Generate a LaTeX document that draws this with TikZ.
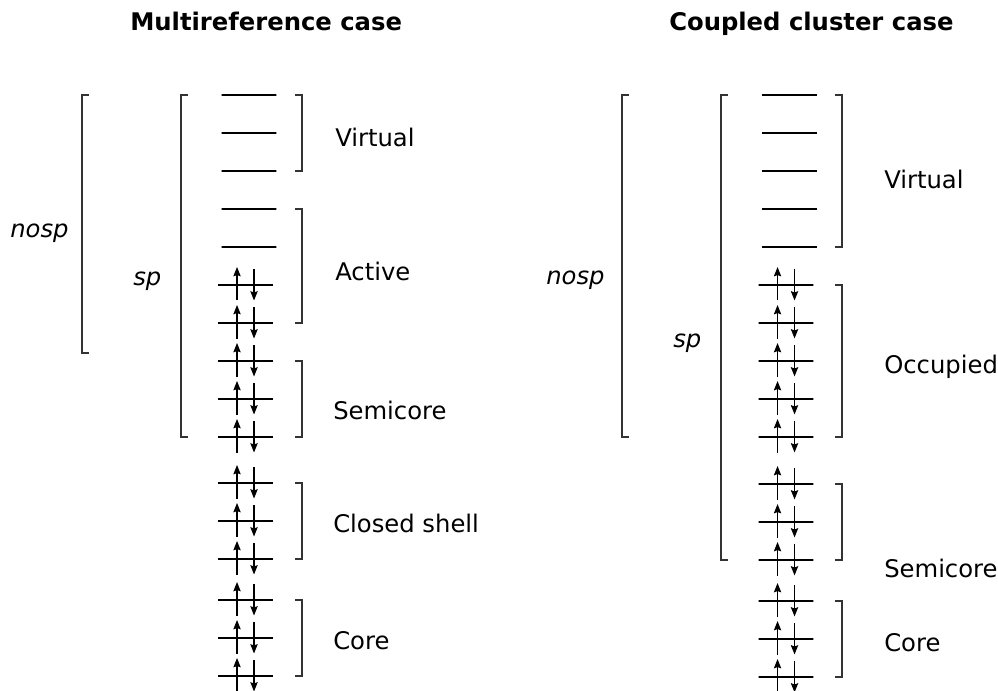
\documentclass[tikz,border=0pt]{standalone}
\usepackage{fontspec}
\setmainfont{DejaVu Sans}
\usepackage{tikz}
\usetikzlibrary{positioning,arrows.meta}
\tikzset{
	orb/.style={rectangle, draw=black, line width=1pt, inner sep=0pt, outer sep=0pt, minimum width=41pt, minimum height=0pt},
	spin/.style={-{Stealth[length=7pt, width=5.5pt, inset=1pt]}, line width=0.9pt},
	brk/.style={draw=black!80, line width=1pt},
	lbl/.style={anchor=base west, inner sep=0pt, font=\fontsize{18.2}{22}\selectfont},
	sub/.style={lbl, font=\fontsize{18.2}{22}\selectfont\itshape},
	title/.style={lbl, font=\fontsize{18.2}{22}\selectfont\bfseries}
}
% electron pair (up and down spin) on level #1
\newcommand{\spinpair}[1]{%
	\draw[spin] ([shift={(-8.5,15.5)}]#1.center) -- ([shift={(-8.5,-18)}]#1.center);
	\draw[spin] ([shift={(8.5,-16)}]#1.center) -- ([shift={(8.5,15.5)}]#1.center);}
% bracket at the x of #3 from level #1 to level #2, ticks of length #4
\newcommand{\levelbrk}[4]{%
	\draw[brk] (#1 -| #3) ++(#4,0) -- (#1 -| #3) -- (#2 -| #3) -- ++(#4,0);}

\begin{document}
\begin{tikzpicture}[x=0.75pt, y=-0.75pt, node distance=28.5pt]
\useasboundingbox (0,0) rectangle (998,691);

\node[title] (mtitle) at (130,31) {Multireference case};
\node[title] (ctitle) at (669,31) {Coupled cluster case};

% multireference levels
\node[orb] (m0) at (249,95) {};
\node[orb] (m1) [below=of m0] {};
\node[orb] (m2) [below=of m1] {};
\node[orb] (m3) [below=of m2] {};
\node[orb] (m4) [below=of m3] {};
\node[orb] (m5) [below=of m4, xshift=-2.6pt] {};
\node[orb] (m6) [below=of m5] {};
\node[orb] (m7) [below=of m6] {};
\node[orb] (m8) [below=of m7] {};
\node[orb] (m9) [below=of m8] {};
\node[orb] (m10) [below=34.5pt of m9] {};
\node[orb] (m11) [below=of m10] {};
\node[orb] (m12) [below=of m11] {};
\node[orb] (m13) [below=30.75pt of m12] {};
\node[orb] (m14) [below=of m13] {};
\node[orb] (m15) [below=of m14] {};

% coupled cluster levels
\node[orb] (c0) at (789.5,95) {};
\node[orb] (c1) [below=of c0] {};
\node[orb] (c2) [below=of c1] {};
\node[orb] (c3) [below=of c2] {};
\node[orb] (c4) [below=of c3] {};
\node[orb] (c5) [below=of c4, xshift=-2.6pt] {};
\node[orb] (c6) [below=of c5] {};
\node[orb] (c7) [below=of c6] {};
\node[orb] (c8) [below=of c7] {};
\node[orb] (c9) [below=of c8] {};
\node[orb] (c10) [below=35.25pt of c9] {};
\node[orb] (c11) [below=of c10] {};
\node[orb] (c12) [below=of c11] {};
\node[orb] (c13) [below=30.75pt of c12] {};
\node[orb] (c14) [below=of c13] {};
\node[orb] (c15) [below=of c14] {};

% filled levels
\spinpair{m5}\spinpair{m6}\spinpair{m7}\spinpair{m8}\spinpair{m9}\spinpair{m10}
\spinpair{m11}\spinpair{m12}\spinpair{m13}\spinpair{m14}\spinpair{m15}
\spinpair{c5}\spinpair{c6}\spinpair{c7}\spinpair{c8}\spinpair{c9}\spinpair{c10}
\spinpair{c11}\spinpair{c12}\spinpair{c13}\spinpair{c14}\spinpair{c15}

% x positions of the brackets
\coordinate (mR) at (302,0);
\coordinate (mS) at (181,0);
\coordinate (mN) at (82,0);
\coordinate (mNend) at (82,353);
\coordinate (cR) at (842,0);
\coordinate (cS) at (721,0);
\coordinate (cN) at (622,0);

\levelbrk{m0}{m2}{mR}{-5pt}
\levelbrk{m3}{m6}{mR}{-5pt}
\levelbrk{m7}{m9}{mR}{-5pt}
\levelbrk{m10}{m12}{mR}{-5pt}
\levelbrk{m13}{m15}{mR}{-5pt}
\levelbrk{m0}{m9}{mS}{5pt}
\levelbrk{m0}{mNend}{mN}{5pt}

\levelbrk{c0}{c4}{cR}{-5pt}
\levelbrk{c5}{c9}{cR}{-5pt}
\levelbrk{c10}{c12}{cR}{-5pt}
\levelbrk{c13}{c15}{cR}{-5pt}
\levelbrk{c0}{c12}{cS}{5pt}
\levelbrk{c0}{c9}{cN}{5pt}

% labels
\node[lbl] (mvirt) at (335,147) {Virtual};
\node[lbl] (mact) at (335,281) {Active};
\node[lbl] (msemi) at (333,419) {Semicore};
\node[lbl] (mclosed) at (333,532) {Closed shell};
\node[lbl] (mcore) at (333,649) {Core};
\node[sub] (mnosp) at (10,238) {nosp};
\node[sub] (msp) at (133,286) {sp};

\node[lbl] (cvirt) at (884,189) {Virtual};
\node[lbl] (cocc) at (884,373) {Occupied};
\node[lbl] (csemi) at (884,577) {Semicore};
\node[lbl] (ccore) at (884,651) {Core};
\node[sub] (cnosp) at (546,285) {nosp};
\node[sub] (csp) at (673,347) {sp};
\end{tikzpicture}
\end{document}
